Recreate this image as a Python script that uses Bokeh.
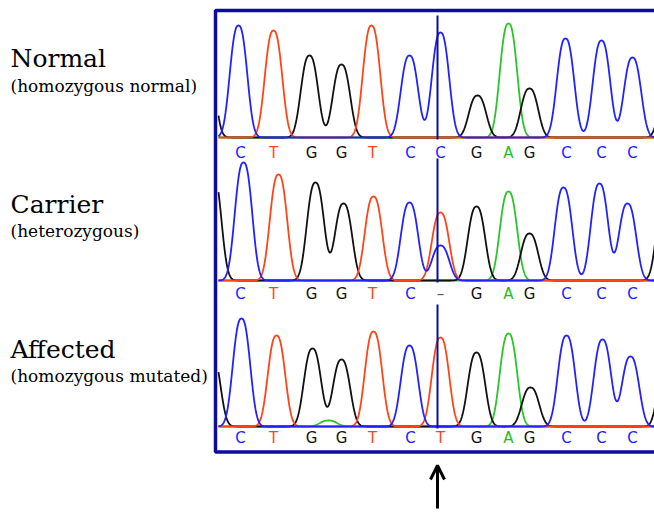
import numpy as np
from bokeh.plotting import figure
from bokeh.models import Range1d, Label, Arrow, OpenHead, ColumnDataSource
from bokeh.embed import file_html
from bokeh.resources import INLINE
from bokeh.core.properties import value

# ---------------- data (scan units along x, signal units along y) ----------------
call_pos = [25, 58, 96, 126, 157, 195, 225, 261, 293, 314, 351, 386, 417]
normal_calls = ["C", "T", "G", "G", "T", "C", "C", "G", "A", "G", "C", "C", "C"]
carrier_calls = ["C", "T", "G", "G", "T", "C", "–", "G", "A", "G", "C", "C", "C"]
affected_calls = ["C", "T", "G", "G", "T", "C", "T", "G", "A", "G", "C", "C", "C"]

normal_peak_base = ["G", "C", "T", "G", "G", "T", "C", "C", "G", "A", "G", "C", "C", "C", "G"]
normal_peak_pos = [-10, 23, 58, 94, 126, 156, 194, 225, 262, 293, 314, 350, 386, 417, 453]
normal_peak_h = [1000, 1120, 1070, 820, 730, 1120, 820, 1050, 420, 1140, 490, 990, 970, 800, 600]

carrier_peak_base = ["G", "C", "T", "G", "G", "T", "C", "T", "C", "G", "A", "G", "C", "C", "C", "G"]
carrier_peak_pos = [-3, 28, 63, 100, 128, 158, 194, 225, 225, 261, 293, 314, 348, 384, 412, 450]
carrier_peak_h = [1100, 1180, 1060, 980, 770, 840, 780, 680, 350, 740, 890, 470, 930, 970, 770, 900]

affected_peak_base = ["G", "C", "T", "G", "A", "G", "T", "C", "T", "G", "A", "G", "C", "C", "C", "G"]
affected_peak_pos = [-4, 26, 61, 97, 113, 126, 158, 194, 225, 261, 293, 315, 351, 387, 415, 452]
affected_peak_h = [750, 1080, 910, 780, 60, 670, 950, 810, 890, 740, 930, 390, 910, 870, 700, 800]

sample_names = ["Normal", "Carrier", "Affected"]
sample_notes = ["(homozygous normal)", "(heterozygous)", "(homozygous mutated)"]
marker_pos = 222

# ---------------- styling / layout ----------------
base_colors = {"C": "#2222ff", "T": "#ff4518", "G": "#111111", "A": "#22c022", "–": "#555555"}
trace_colors = {"C": "#2222ff", "T": "#ff4518", "G": "#111111", "A": "#2ac52a"}
navy = "#0c0c9e"
peak_w = 11.0
peak_pow = 2.5
panel_baseline = [3700, 2270, 810]
label_drop = [150, 130, 110]
name_y = [4350, 2890, 1440]
note_y = [4120, 2670, 1220]

p = figure(width=654, height=515, x_range=Range1d(-215, 439), y_range=Range1d(-80, 5070),
           output_backend="svg", toolbar_location=None, min_border=0,
           x_axis_location=None, y_axis_location=None)
p.grid.visible = False
p.outline_line_color = None
p.background_fill_color = "white"

xs = np.arange(3, 445, 0.5)
panels = [
    (normal_peak_base, normal_peak_pos, normal_peak_h, normal_calls),
    (carrier_peak_base, carrier_peak_pos, carrier_peak_h, carrier_calls),
    (affected_peak_base, affected_peak_pos, affected_peak_h, affected_calls),
]

for i, (pb, pp, ph, calls) in enumerate(panels):
    base = panel_baseline[i]
    for ch in ["A", "G", "T", "C"]:
        ys = np.zeros_like(xs)
        for b, pos, h in zip(pb, pp, ph):
            if b == ch:
                ys += h * np.exp(-np.abs((xs - pos) / peak_w) ** peak_pow)
        p.line(xs, ys + base, line_color=trace_colors[ch], line_width=1.8)
    src = ColumnDataSource(dict(x=call_pos, y=[base - label_drop[i]] * len(call_pos), t=calls,
                                c=[base_colors[c] for c in calls]))
    p.text(x="x", y="y", text="t", text_color="c", source=src, text_align="center",
           text_baseline="middle", text_font=value("DejaVu Sans"), text_font_size="15px")
    p.segment(x0=[marker_pos], y0=[base - 20], x1=[marker_pos], y1=[base + 1220],
              line_color=navy, line_width=2)
    p.add_layout(Label(x=-205, y=name_y[i], text=sample_names[i], text_font="DejaVu Serif",
                       text_font_size="25px", text_color="black"))
    p.add_layout(Label(x=-205, y=note_y[i], text=sample_notes[i], text_font="DejaVu Serif",
                       text_font_size="17px", text_color="black"))

# frame around the traces
p.quad(left=[0], right=[470], bottom=[555], top=[4970], fill_color=None,
       line_color=navy, line_width=3.5)

# arrow pointing at the variant position
p.add_layout(Arrow(x_start=marker_pos, y_start=-10, x_end=marker_pos, y_end=420,
                   line_width=3, line_color="black",
                   end=OpenHead(size=14, line_width=3, line_color="black")))

open("out.html", "w").write(file_html(p, INLINE))
